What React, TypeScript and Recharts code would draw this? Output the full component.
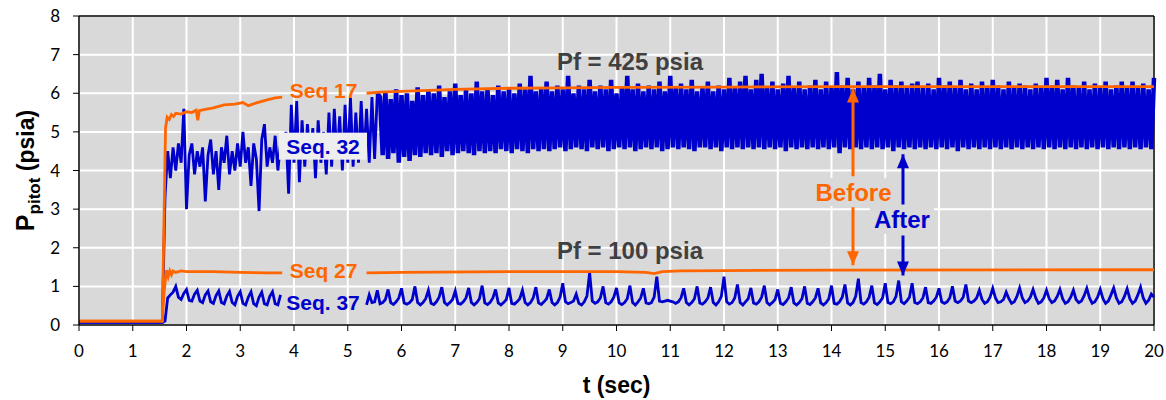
import {
  ComposedChart,
  Line,
  XAxis,
  YAxis,
  CartesianGrid,
  ReferenceLine,
  ReferenceDot,
} from 'recharts';

// Pitot pressure traces, before/after (Seq 17/27 = before, Seq 32/37 = after)

const ORANGE = '#ff6600';
const BLUE = '#0000cc';
const BG = '#d9d9d9';

const xTicks = [0, 1, 2, 3, 4, 5, 6, 7, 8, 9, 10, 11, 12, 13, 14, 15, 16, 17, 18, 19, 20];
const yTicks = [0, 1, 2, 3, 4, 5, 6, 7, 8];

// orange traces, [t, psia]
const seq17Pts: [number, number | null][] = [
  [0, 0.1], [1.55, 0.1], [1.58, 2.6], [1.61, 5.1], [1.64, 5.38], [1.68, 5.32], [1.72, 5.45],
  [1.76, 5.4], [1.8, 5.48], [1.9, 5.46], [2.0, 5.52], [2.1, 5.5], [2.18, 5.56], [2.21, 5.3],
  [2.24, 5.55], [2.35, 5.58], [2.5, 5.62], [2.7, 5.7], [2.9, 5.72], [3.05, 5.76], [3.15, 5.68],
  [3.3, 5.75], [3.5, 5.83], [3.65, 5.88], [3.78, 5.9], [4.5, null], [5.35, 6.0], [5.6, 6.03],
  [6.0, 6.05], [7.0, 6.1], [8.0, 6.13], [9.0, 6.14], [10.0, 6.15], [12.0, 6.16], [14.0, 6.17],
  [16.0, 6.17], [18.0, 6.17], [20.0, 6.17],
];

const seq27Pts: [number, number | null][] = [
  [0, 0.1], [1.55, 0.1], [1.58, 0.8], [1.61, 1.2], [1.63, 1.42], [1.66, 1.25], [1.69, 1.4],
  [1.72, 1.3], [1.75, 1.4], [1.8, 1.36], [1.9, 1.4], [2.0, 1.38], [2.5, 1.38], [3.0, 1.36],
  [3.5, 1.35], [3.78, 1.35], [4.5, null], [5.35, 1.35], [6.0, 1.36], [8.0, 1.38], [10.0, 1.38],
  [10.55, 1.36], [10.7, 1.33], [10.85, 1.38], [11.2, 1.4], [12.0, 1.41], [14.0, 1.42], [20.0, 1.43],
];

// blue traces: flat start, then samples every 0.05 s from t = 1.60
const blueStart: [number, number][] = [[0, 0.07], [1.55, 0.07]];
const BLUE_T0 = 1.6;
const BLUE_DT = 0.05;
// Seq. 32 is drawn heavier once the oscillation gets dense (sample index 79, t = 5.55)
const SEQ32_DENSE_FROM = 79;

const seq32Vals = [
  3.3, 4.5, 3.8, 4.6, 4.0, 4.7, 4.2, 5.6, 3.0, 4.4, 4.7, 3.9, 4.5, 4.1, 4.6, 3.2, 4.4, 4.8, 3.9, 4.5,
  3.5, 4.6, 4.2, 4.9, 3.9, 4.5, 4.0, 4.7, 4.1, 5.0, 4.2, 4.6, 3.6, 4.7, 4.3, 2.95, 4.8, 5.2, 4.1, 4.6,
  4.2, 4.9, 4.0, 4.7, 4.4, 5.0, 3.4, 5.7, 4.2, 5.8, 3.7, 5.3, 4.1, 5.2, 4.3, 5.1, 3.8, 5.3, 4.2, 5.0,
  3.9, 5.5, 4.1, 5.6, 4.3, 5.4, 4.0, 5.7, 4.2, 5.9, 4.1, 5.5, 4.2, 5.8, 4.3, 5.6, 4.2, 5.9, 4.3, 6.0,
  5.90, 4.40, 6.05, 4.30, 5.85, 4.45, 6.10, 4.20, 5.95, 4.35, 6.00, 4.25, 5.80, 4.40, 6.15, 4.35, 5.95, 4.45, 6.10, 4.40,
  6.00, 4.45, 6.20, 4.35, 5.90, 4.50, 6.05, 4.40, 6.25, 4.45, 5.95, 4.50, 6.10, 4.45, 6.00, 4.40, 6.30, 4.50, 6.05, 4.45,
  6.10, 4.50, 5.95, 4.45, 6.20, 4.55, 6.05, 4.50, 6.15, 4.45, 6.00, 4.55, 6.25, 4.50, 6.10, 4.45, 6.45, 4.55, 6.05, 4.50,
  6.15, 4.55, 6.30, 4.50, 6.05, 4.55, 6.20, 4.60, 6.10, 4.50, 6.45, 4.55, 6.00, 4.60, 6.20, 4.55, 6.10, 4.50, 6.35, 4.60,
  6.05, 4.55, 6.20, 4.60, 6.10, 4.50, 6.35, 4.55, 6.00, 4.60, 6.15, 4.55, 6.45, 4.60, 6.10, 4.50, 6.25, 4.55, 6.05, 4.60,
  6.20, 4.55, 6.10, 4.60, 6.30, 4.50, 6.05, 4.55, 6.45, 4.60, 6.15, 4.55, 6.25, 4.60, 6.10, 4.55, 6.35, 4.50, 6.05, 4.60,
  6.15, 4.60, 6.30, 4.55, 6.05, 4.60, 6.20, 4.50, 6.10, 4.60, 6.40, 4.55, 6.15, 4.60, 6.30, 4.55, 6.45, 4.60, 6.10, 4.55,
  6.35, 4.60, 6.50, 4.55, 6.15, 4.60, 6.30, 4.55, 6.10, 4.60, 6.25, 4.50, 6.45, 4.60, 6.15, 4.55, 6.30, 4.60, 6.10, 4.55,
  6.20, 4.60, 6.35, 4.55, 6.10, 4.60, 6.30, 4.55, 6.15, 4.60, 6.55, 4.45, 6.20, 4.60, 6.40, 4.55, 6.10, 4.60, 6.30, 4.55,
  6.15, 4.60, 6.40, 4.55, 6.20, 4.60, 6.50, 4.55, 6.10, 4.60, 6.35, 4.50, 6.20, 4.60, 6.30, 4.55, 6.15, 4.60, 6.25, 4.55,
  6.30, 4.60, 6.15, 4.55, 6.25, 4.60, 6.10, 4.55, 6.40, 4.60, 6.20, 4.55, 6.30, 4.60, 6.15, 4.50, 6.35, 4.60, 6.10, 4.55,
  6.25, 4.60, 6.10, 4.55, 6.30, 4.60, 6.15, 4.55, 6.35, 4.60, 6.20, 4.55, 6.10, 4.60, 6.30, 4.55, 6.15, 4.60, 6.25, 4.55,
  6.20, 4.60, 6.10, 4.55, 6.25, 4.60, 6.15, 4.55, 6.40, 4.60, 6.20, 4.55, 6.35, 4.60, 6.10, 4.55, 6.40, 4.60, 6.20, 4.55,
  6.15, 4.60, 6.30, 4.55, 6.10, 4.60, 6.25, 4.55, 6.15, 4.60, 6.30, 4.55, 6.10, 4.60, 6.20, 4.55, 6.30, 4.60, 6.15, 4.55,
  6.30, 4.60, 6.15, 4.55, 6.25, 4.60, 6.10, 4.55, 6.40,
];

const N = null;
const seq37Vals = [
  0.10, 0.70, 0.78, 0.85, 1.00, 0.72, 0.66, 0.82, 0.92, 0.64, 0.62, 0.80, 0.90, 0.62, 0.58, 0.78, 0.88, 0.60, 0.56, 0.76,
  0.88, 0.58, 0.55, 0.75, 0.87, 0.58, 0.52, 0.74, 0.86, 0.56, 0.52, 0.72, 0.86, 0.55, 0.50, 0.72, 0.85, 0.55, 0.52, 0.74,
  0.86, 0.55, 0.52, 0.78, N, N, N, N, N, N, N, N, N, N, N, N, N, N, N, N,
  N, N, N, N, N, N, N, N, N, N, N, N, N, N, N, 0.52, 0.78, 0.58, 0.60, 0.90,
  0.55, 0.58, 0.66, 0.92, 0.58, 0.53, 0.60, 0.70, 0.95, 0.57, 0.54, 0.58, 0.66, 1.00, 0.58, 0.52, 0.58, 0.68, 0.90, 0.56,
  0.53, 0.60, 0.72, 0.98, 0.58, 0.52, 0.58, 0.66, 0.88, 0.56, 0.54, 0.60, 0.70, 0.96, 0.58, 0.52, 0.58, 0.68, 1.02, 0.57,
  0.53, 0.59, 0.70, 0.92, 0.57, 0.52, 0.58, 0.66, 0.96, 0.56, 0.54, 0.60, 0.68, 0.90, 0.58, 0.52, 0.58, 0.70, 0.98, 0.57,
  0.53, 0.60, 0.68, 0.92, 0.58, 0.52, 0.58, 0.72, 1.08, 0.60, 0.55, 0.58, 0.62, 0.80, 0.56, 0.52, 0.60, 0.75, 1.35, 0.62,
  0.56, 0.60, 0.70, 1.00, 0.58, 0.54, 0.60, 0.72, 0.96, 0.57, 0.53, 0.58, 0.68, 1.02, 0.58, 0.52, 0.60, 0.70, 0.95, 0.57,
  0.55, 0.58, 0.72, 1.25, 0.62, 0.60, 0.62, 0.64, 0.62, 0.60, 0.56, 0.60, 0.70, 0.95, 0.58, 0.52, 0.58, 0.68, 1.00, 0.57,
  0.54, 0.60, 0.70, 0.98, 0.58, 0.52, 0.60, 0.74, 1.25, 0.60, 0.54, 0.58, 0.70, 1.05, 0.58, 0.52, 0.60, 0.68, 0.96, 0.57,
  0.54, 0.60, 0.72, 1.02, 0.58, 0.52, 0.58, 0.66, 0.92, 0.56, 0.53, 0.60, 0.70, 0.98, 0.57, 0.52, 0.58, 0.68, 1.00, 0.56,
  0.53, 0.60, 0.70, 0.95, 0.57, 0.52, 0.58, 0.68, 1.02, 0.56, 0.54, 0.60, 0.72, 1.05, 0.57, 0.52, 0.58, 0.74, 1.20, 0.58,
  0.54, 0.60, 0.72, 1.02, 0.57, 0.53, 0.60, 0.70, 1.08, 0.58, 0.55, 0.60, 0.74, 1.15, 0.60, 0.55, 0.62, 0.72, 1.08, 0.58,
  0.55, 0.60, 0.70, 0.98, 0.58, 0.56, 0.62, 0.72, 0.95, 0.60, 0.56, 0.60, 0.70, 1.00, 0.62, 0.58, 0.62, 0.72, 1.05, 0.62,
  0.58, 0.62, 0.70, 0.90, 0.66, 0.56, 0.60, 0.72, 0.95, 0.70, 0.58, 0.60, 0.66, 0.85, 0.68, 0.56, 0.60, 0.74, 0.96, 0.70,
  0.58, 0.62, 0.72, 0.92, 0.70, 0.56, 0.60, 0.70, 0.90, 0.68, 0.58, 0.62, 0.74, 0.92, 0.68, 0.56, 0.60, 0.72, 0.90, 0.66,
  0.58, 0.62, 0.76, 0.95, 0.70, 0.56, 0.60, 0.72, 0.92, 0.68, 0.56, 0.62, 0.78, 0.96, 0.70, 0.56, 0.60, 0.74, 0.94, 0.68,
  0.56, 0.62, 0.78, 0.98, 0.70, 0.56, 0.64, 0.80, 0.72,
];

// arrows: [t, psia, head]
const beforeArrow: [number, number | null, string][] = [
  [14.4, 6.12, 'up'], [14.4, 3.85, ''], [14.4, null, ''], [14.4, 3.05, ''], [14.4, 1.55, 'down'],
];
const afterArrow: [number, number | null, string][] = [
  [15.33, 4.42, 'up'], [15.33, 3.12, ''], [15.33, null, ''], [15.33, 2.32, ''], [15.33, 1.28, 'down'],
];

const toRows = (pts: [number, number | null][]) => pts.map(([t, v]) => ({ t, v }));
const sampled = (vals: (number | null)[], from = 0) =>
  vals.map((v, i) => ({ t: +(BLUE_T0 + i * BLUE_DT).toFixed(2), v })).slice(from);
const toArrow = (pts: [number, number | null, string][]) => pts.map(([t, v, head]) => ({ t, v, head }));

const seq17 = toRows(seq17Pts);
const seq27 = toRows(seq27Pts);
const seq32Early = [...toRows(blueStart), ...sampled(seq32Vals).slice(0, SEQ32_DENSE_FROM + 1)];
const seq32Dense = sampled(seq32Vals, SEQ32_DENSE_FROM);
const seq37 = [...toRows(blueStart), ...sampled(seq37Vals)];

const BOLD = "'Liberation Sans', Arial, sans-serif";

const tag = (text: string, color: string, size: number, box?: { w: number; h: number; fill: string }) =>
  (p: any) => (
    <g>
      {box && (
        <rect x={p.cx - box.w / 2} y={p.cy - box.h / 2} width={box.w} height={box.h} fill={box.fill} />
      )}
      <text
        x={p.cx}
        y={p.cy}
        textAnchor="middle"
        dominantBaseline="central"
        fontFamily={BOLD}
        fontWeight={700}
        fontSize={size}
        fill={color}
      >
        {text}
      </text>
    </g>
  );

const arrowHead = (color: string) => (p: any) => {
  const { cx, cy, payload, index } = p;
  if (cy == null || !payload || !payload.head) return <g key={index} />;
  const dir = payload.head === 'up' ? 1 : -1;
  return (
    <path
      key={index}
      d={`M${cx},${cy} L${cx - 6},${cy + dir * 14} L${cx + 6},${cy + dir * 14} Z`}
      fill={color}
      stroke="none"
    />
  );
};

const YTitle = (props: any) => {
  const vb = props.viewBox || { y: 16, height: 309 };
  const cy = vb.y + vb.height / 2;
  return (
    <text
      transform={`translate(34,${cy}) rotate(-90)`}
      textAnchor="middle"
      fontFamily={BOLD}
      fontWeight={700}
      fill="#000"
    >
      <tspan fontSize={25}>P</tspan>
      <tspan fontSize={17} dy={6}>pitot</tspan>
      <tspan fontSize={23} dy={-6}> (psia)</tspan>
    </text>
  );
};

const XTitle = (props: any) => {
  const vb = props.viewBox || { x: 79, width: 1075 };
  return (
    <text
      x={vb.x + vb.width / 2}
      y={393}
      textAnchor="middle"
      fontFamily={BOLD}
      fontWeight={700}
      fontSize={23}
      fill="#000"
    >
      t (sec)
    </text>
  );
};

const tickStyle = { fill: '#000', fontSize: 17, fontFamily: 'Lato, sans-serif' };

export default function App() {
  return (
    <div style={{ position: 'absolute', left: 0, top: 0, width: 1166, height: 400, background: '#fff' }}>
      <ComposedChart width={1166} height={400} margin={{ top: 16, right: 12, bottom: 0, left: 0 }}>
        <CartesianGrid fill={BG} stroke="#ffffff" strokeWidth={2} />
        <XAxis
          type="number"
          dataKey="t"
          domain={[0, 20]}
          ticks={xTicks}
          interval={0}
          height={75}
          tick={tickStyle}
          tickSize={6}
          tickMargin={14}
          axisLine={{ stroke: '#000', strokeWidth: 1.5 }}
          tickLine={{ stroke: '#000' }}
          label={{ content: XTitle }}
        />
        <YAxis
          type="number"
          domain={[0, 8]}
          ticks={yTicks}
          interval={0}
          width={79}
          tick={tickStyle}
          tickSize={6}
          tickMargin={13}
          axisLine={{ stroke: '#000', strokeWidth: 1.5 }}
          tickLine={{ stroke: '#000' }}
          label={{ content: YTitle }}
        />
        <ReferenceLine y={8} stroke="#000" strokeWidth={1.5} />
        <ReferenceLine x={20} stroke="#000" strokeWidth={1.5} />

        <Line data={seq32Early} dataKey="v" type="linear" stroke={BLUE} strokeWidth={2.8} dot={false} isAnimationActive={false} />
        <Line data={seq32Dense} dataKey="v" type="linear" stroke={BLUE} strokeWidth={4.5} strokeLinejoin="bevel" dot={false} isAnimationActive={false} />
        <Line data={seq37} dataKey="v" type="linear" stroke={BLUE} strokeWidth={2.8} dot={false} isAnimationActive={false} />
        <Line data={seq17} dataKey="v" type="linear" stroke={ORANGE} strokeWidth={2.8} dot={false} isAnimationActive={false} />
        <Line data={seq27} dataKey="v" type="linear" stroke={ORANGE} strokeWidth={2.8} dot={false} isAnimationActive={false} />

        <Line data={toArrow(beforeArrow)} dataKey="v" stroke={ORANGE} strokeWidth={3} dot={arrowHead(ORANGE)} isAnimationActive={false} />
        <Line data={toArrow(afterArrow)} dataKey="v" stroke={BLUE} strokeWidth={3} dot={arrowHead(BLUE)} isAnimationActive={false} />

        <ReferenceDot x={4.55} y={6.06} r={1} shape={tag('Seq 17', ORANGE, 21)} />
        <ReferenceDot x={4.54} y={4.63} r={1} shape={tag('Seq. 32', BLUE, 21, { w: 88, h: 27, fill: '#eeeeee' })} />
        <ReferenceDot x={4.55} y={1.4} r={1} shape={tag('Seq 27', ORANGE, 21)} />
        <ReferenceDot x={4.54} y={0.57} r={1} shape={tag('Seq. 37', BLUE, 21)} />
        <ReferenceDot x={10.25} y={6.81} r={1} shape={tag('Pf = 425 psia', '#404040', 24)} />
        <ReferenceDot x={10.25} y={1.92} r={1} shape={tag('Pf = 100 psia', '#404040', 24)} />
        <ReferenceDot x={14.41} y={3.44} r={1} shape={tag('Before', ORANGE, 24, { w: 86, h: 28, fill: BG })} />
        <ReferenceDot x={15.31} y={2.72} r={1} shape={tag('After', BLUE, 24, { w: 64, h: 28, fill: BG })} />
      </ComposedChart>
    </div>
  );
}
